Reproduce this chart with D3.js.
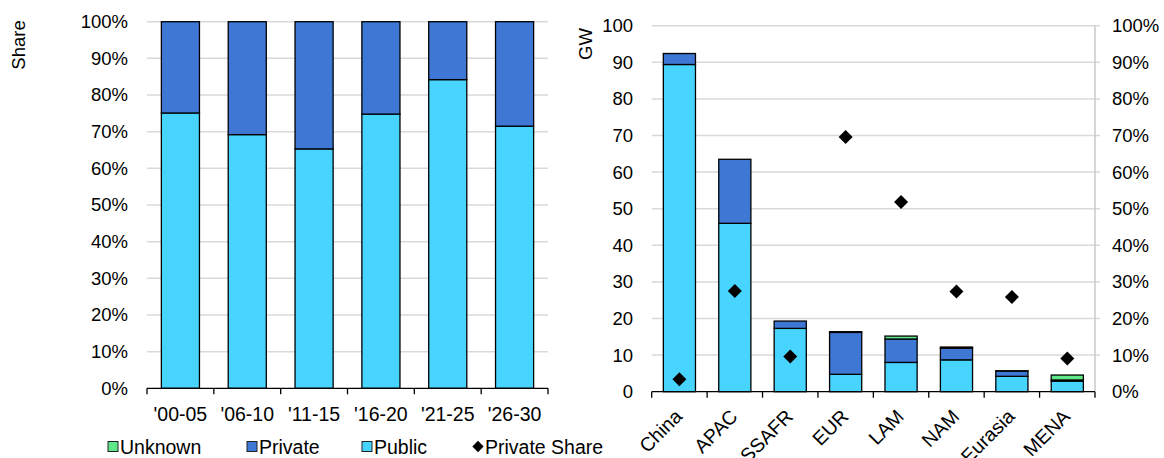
<!DOCTYPE html>
<html><head><meta charset="utf-8">
<script src="https://cdn.jsdelivr.net/npm/d3@7"></script>
<style>body{margin:0;background:#fff}svg{display:block}text{font-family:"Liberation Sans",Arial,sans-serif;fill:#000}</style>
</head><body>
<svg id="c" width="1164" height="458"></svg>
<script>
// Left chart data
const periods = ["'00-05","'06-10","'11-15","'16-20","'21-25","'26-30"];
const publicShare = [75.1, 69.2, 65.3, 74.8, 84.2, 71.5];
const privateShareLeft = publicShare.map(v => 100 - v);
// Right chart data
const regions = ["China","APAC","SSAFR","EUR","LAM","NAM","Eurasia","MENA"];
const publicGW = [89.4, 46.0, 17.3, 4.75, 8.0, 8.7, 4.2, 2.9];
const privateGW = [3.0, 17.5, 2.0, 11.45, 6.4, 3.2, 1.45, 0.3];
const unknownGW = [0.0, 0.0, 0.0, 0.2, 0.8, 0.3, 0.05, 1.35];
const privateSharePct = [3.4, 27.5, 9.6, 69.6, 51.8, 27.4, 25.9, 9.1];
const leftTicks = [0,10,20,30,40,50,60,70,80,90,100];
const gwTicks = [0,10,20,30,40,50,60,70,80,90,100];

const C = {pub:"#47D4FF", priv:"#3E78D4", unk:"#5EE88A", grid:"#d9d9d9"};
const svg = d3.select("#c");
const FS = "18.5px", FX = "19.5px", FL = "19.5px";

// ---------- Left chart ----------
const L = {x0:147, x1:548, y0:21.7, y1:388.3};
const xL = d3.scaleBand().domain(periods).range([L.x0, L.x1]).paddingInner(0.43).paddingOuter(0.215);
const yL = d3.scaleLinear().domain([0,100]).range([L.y1, L.y0]);
const gL = svg.append("g");
gL.selectAll("line.grid").data(leftTicks.slice(1)).join("line")
  .attr("x1", L.x0).attr("x2", L.x1).attr("y1", d=>yL(d)).attr("y2", d=>yL(d))
  .attr("stroke", C.grid).attr("stroke-width", 1.5);
gL.selectAll("text.yt").data(leftTicks).join("text")
  .attr("x", 128).attr("y", d=>yL(d)).attr("dy","0.35em").attr("text-anchor","end")
  .style("font-size",FS).text(d=>d+"%");
const stackL = periods.map((p,i)=>({p, pub:publicShare[i], priv:privateShareLeft[i]}));
gL.selectAll("rect.pub").data(stackL).join("rect")
  .attr("x", d=>xL(d.p)).attr("width", xL.bandwidth())
  .attr("y", d=>yL(d.pub)).attr("height", d=>yL(0)-yL(d.pub))
  .attr("fill", C.pub).attr("stroke","#000").attr("stroke-width",1.3);
gL.selectAll("rect.priv").data(stackL).join("rect")
  .attr("x", d=>xL(d.p)).attr("width", xL.bandwidth())
  .attr("y", d=>yL(d.pub+d.priv)).attr("height", d=>yL(d.pub)-yL(d.pub+d.priv))
  .attr("fill", C.priv).attr("stroke","#000").attr("stroke-width",1.3);
// x axis
gL.append("line").attr("x1",L.x0).attr("x2",L.x1).attr("y1",L.y1).attr("y2",L.y1).attr("stroke","#000").attr("stroke-width",1.3);
const bL = xL.step();
gL.selectAll("line.xt").data(d3.range(periods.length+1)).join("line")
  .attr("x1", i=>L.x0+i*bL).attr("x2", i=>L.x0+i*bL).attr("y1",L.y1).attr("y2",L.y1+6)
  .attr("stroke","#000").attr("stroke-width",1.3);
gL.selectAll("text.xl").data(periods).join("text")
  .attr("x", d=>xL(d)+xL.bandwidth()/2).attr("y", 420.5).attr("text-anchor","middle")
  .style("font-size",FX).text(d=>d);
svg.append("text").attr("transform","translate(25,45) rotate(-90)").attr("text-anchor","middle")
  .style("font-size",FS).text("Share");

// ---------- Right chart ----------
const R = {x0:651.7, x1:1095, y0:25.7, y1:391.7};
const xR = d3.scaleBand().domain(regions).range([R.x0, R.x1]).paddingInner(0.42).paddingOuter(0.21);
const yR = d3.scaleLinear().domain([0,100]).range([R.y1, R.y0]);
const yR2 = d3.scaleLinear().domain([0,100]).range([R.y1, R.y0]);
const gR = svg.append("g");
gR.selectAll("line.grid").data(gwTicks.slice(1)).join("line")
  .attr("x1", R.x0).attr("x2", R.x1+5).attr("y1", d=>yR(d)).attr("y2", d=>yR(d))
  .attr("stroke", C.grid).attr("stroke-width", 1.5);
gR.append("line").attr("x1",R.x1).attr("x2",R.x1).attr("y1",R.y0).attr("y2",R.y1)
  .attr("stroke", "#c8c8c8").attr("stroke-width",1.5);
gR.selectAll("text.yt").data(gwTicks).join("text")
  .attr("x", 633).attr("y", d=>yR(d)).attr("dy","0.35em").attr("text-anchor","end")
  .style("font-size",FS).text(d=>d);
gR.selectAll("text.yt2").data(leftTicks).join("text")
  .attr("x", 1112).attr("y", d=>yR2(d)).attr("dy","0.35em").attr("text-anchor","start")
  .style("font-size",FS).text(d=>d+"%");
const stackR = regions.map((r,i)=>({r, pub:publicGW[i], priv:privateGW[i], unk:unknownGW[i]}));
const layers = [
  {k:"pub", c:C.pub, base:d=>0},
  {k:"priv", c:C.priv, base:d=>d.pub},
  {k:"unk", c:C.unk, base:d=>d.pub+d.priv}
];
layers.forEach(Lr=>{
  gR.selectAll("rect."+Lr.k).data(stackR.filter(d=>d[Lr.k]>0)).join("rect")
    .attr("x", d=>xR(d.r)).attr("width", xR.bandwidth())
    .attr("y", d=>yR(Lr.base(d)+d[Lr.k])).attr("height", d=>yR(Lr.base(d))-yR(Lr.base(d)+d[Lr.k]))
    .attr("fill", Lr.c).attr("stroke","#000").attr("stroke-width",1.3);
});
gR.selectAll("path.ps").data(regions.map((r,i)=>({r,v:privateSharePct[i]}))).join("path")
  .attr("transform", d=>`translate(${xR(d.r)+xR.bandwidth()/2},${yR2(d.v)}) rotate(45)`)
  .attr("d", d3.symbol().type(d3.symbolSquare).size(98)).attr("fill","#000");
gR.append("line").attr("x1",R.x0).attr("x2",R.x1).attr("y1",R.y1).attr("y2",R.y1).attr("stroke","#000").attr("stroke-width",1.3);
const bR = xR.step();
gR.selectAll("line.xt").data(d3.range(regions.length+1)).join("line")
  .attr("x1", i=>R.x0+i*bR).attr("x2", i=>R.x0+i*bR).attr("y1",R.y1).attr("y2",R.y1+6)
  .attr("stroke","#000").attr("stroke-width",1.3);
gR.selectAll("text.xl").data(regions).join("text")
  .attr("transform", d=>`translate(${xR(d)+xR.bandwidth()/2+4},${R.y1+26}) rotate(-45)`)
  .attr("text-anchor","end").style("font-size",FX).text(d=>d);
svg.append("text").attr("transform","translate(592,44) rotate(-90)").attr("text-anchor","middle")
  .style("font-size",FS).text("GW");

// ---------- Legend ----------
const legend = [
  {name:"Unknown", c:C.unk, x:108, type:"sq"},
  {name:"Private", c:C.priv, x:247, type:"sq"},
  {name:"Public", c:C.pub, x:362, type:"sq"},
  {name:"Private Share", c:"#000", x:473, type:"dm"}
];
const gLeg = svg.append("g");
legend.forEach(l=>{
  if(l.type==="sq"){
    gLeg.append("rect").attr("x",l.x).attr("y",441.5).attr("width",10).attr("height",10)
      .attr("fill",l.c).attr("stroke","#222").attr("stroke-width",1);
  } else {
    gLeg.append("path").attr("transform",`translate(${l.x+5},446.5) rotate(45)`)
      .attr("d", d3.symbol().type(d3.symbolSquare).size(64)).attr("fill","#000");
  }
  gLeg.append("text").attr("x", l.x+12).attr("y", 453.5).style("font-size",FL).text(l.name);
});
</script>
</body></html>
